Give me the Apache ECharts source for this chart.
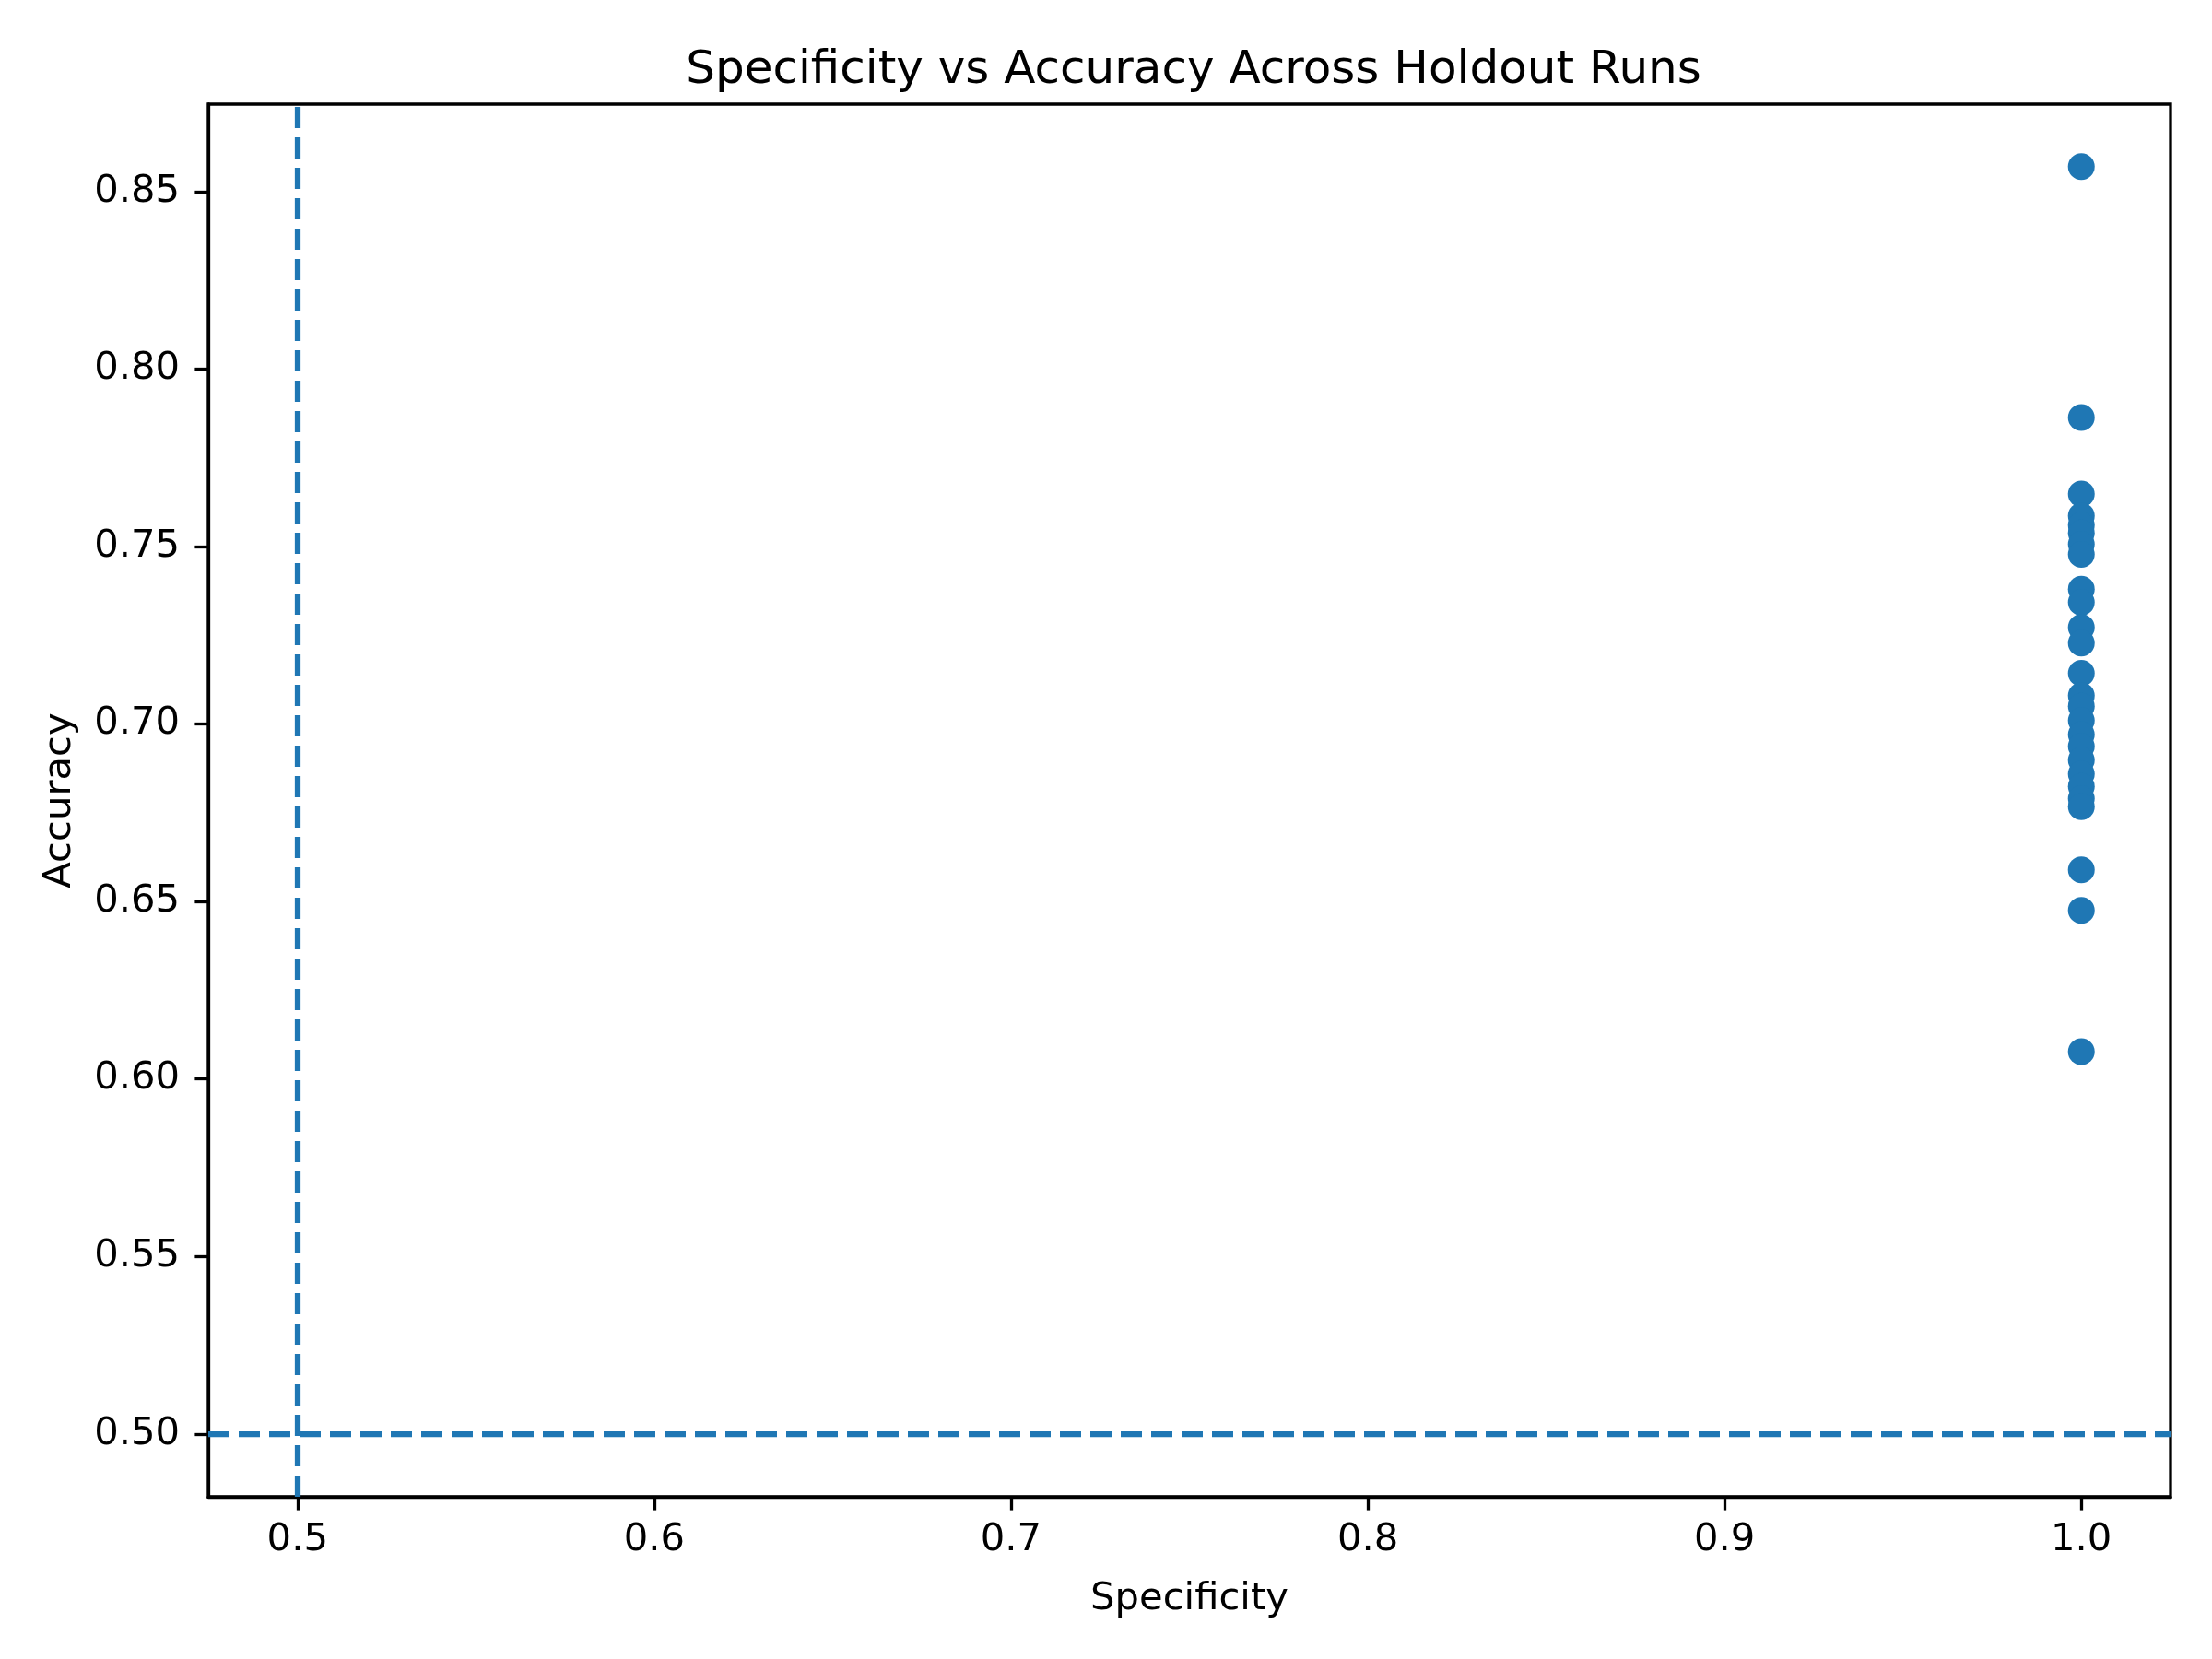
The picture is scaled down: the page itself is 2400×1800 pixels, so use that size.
<!DOCTYPE html>
<html>
<head>
<meta charset="utf-8">
<script src="https://cdn.jsdelivr.net/npm/echarts@6/dist/echarts.min.js"></script>
<style>
  html, body { margin: 0; padding: 0; background: #fff; }
  #main { width: 2400px; height: 1800px; }
</style>
</head>
<body>
<div id="main"></div>
<script>
// holdout runs: specificity (all 1.0) and accuracy per run
const specificity = [1.0, 1.0, 1.0, 1.0, 1.0, 1.0, 1.0, 1.0, 1.0, 1.0, 1.0, 1.0, 1.0,
                     1.0, 1.0, 1.0, 1.0, 1.0, 1.0, 1.0, 1.0, 1.0, 1.0, 1.0, 1.0, 1.0];
const accuracy = [0.857, 0.7863, 0.7648, 0.7586, 0.756, 0.7538, 0.7506, 0.7478, 0.738,
                  0.7343, 0.7272, 0.7228, 0.7143, 0.708, 0.705, 0.701, 0.697, 0.6937,
                  0.6898, 0.6859, 0.6824, 0.679, 0.6767, 0.6589, 0.6475, 0.6077];
// reference lines (chance level)
const refX = 0.5;
const refY = 0.5;
// tick labels
const xTicks = [0.5, 0.6, 0.7, 0.8, 0.9, 1.0];
const yTicks = [0.50, 0.55, 0.60, 0.65, 0.70, 0.75, 0.80, 0.85];

const points = specificity.map((s, i) => [s, accuracy[i]]);

const font = 'DejaVu Sans';
const blue = '#1f77b4';

var myChart = echarts.init(document.getElementById('main'));
myChart.setOption({
    animation: false,
    backgroundColor: '#fff',
    title: {
        text: 'Specificity vs Accuracy Across Holdout Runs',
        left: 1290,
        top: 47,
        textAlign: 'center',
        textStyle: { fontFamily: font, fontSize: 50, fontWeight: 'normal', color: '#000' }
    },
    grid: {
        left: 226, top: 113, width: 2129, height: 1511,
        show: true, borderColor: '#000', borderWidth: 3.3, backgroundColor: 'transparent'
    },
    xAxis: {
        type: 'value',
        min: 0.475, max: 1.025,
        name: 'Specificity',
        nameLocation: 'middle',
        nameGap: 90,
        nameTextStyle: { fontFamily: font, fontSize: 41.7, color: '#000' },
        axisLine: { show: true, lineStyle: { color: '#000', width: 3.3 } },
        axisTick: { show: true, length: 14.6, lineStyle: { color: '#000', width: 3.3 }, customValues: xTicks },
        axisLabel: {
            fontFamily: font, fontSize: 41.7, color: '#000', margin: 26,
            customValues: xTicks,
            formatter: v => v.toFixed(1)
        },
        splitLine: { show: false }
    },
    yAxis: {
        type: 'value',
        min: 0.4823, max: 0.8746,
        name: 'Accuracy',
        nameLocation: 'middle',
        nameGap: 140,
        nameTextStyle: { fontFamily: font, fontSize: 41.7, color: '#000' },
        axisLine: { show: true, lineStyle: { color: '#000', width: 3.3 } },
        axisTick: { show: true, length: 14.6, lineStyle: { color: '#000', width: 3.3 }, customValues: yTicks },
        axisLabel: {
            fontFamily: font, fontSize: 41.7, color: '#000', margin: 31,
            customValues: yTicks,
            formatter: v => v.toFixed(2)
        },
        splitLine: { show: false }
    },
    series: [{
        type: 'scatter',
        data: points,
        symbol: 'circle',
        symbolSize: 29,
        itemStyle: { color: blue, opacity: 1 },
        emphasis: { disabled: true },
        markLine: {
            silent: true,
            symbol: ['none', 'none'],
            label: { show: false },
            lineStyle: { color: blue, width: 6.25, type: [23, 10] },
            emphasis: { disabled: true },
            data: [{ xAxis: refX }, { yAxis: refY }]
        }
    }]
});
</script>
</body>
</html>
